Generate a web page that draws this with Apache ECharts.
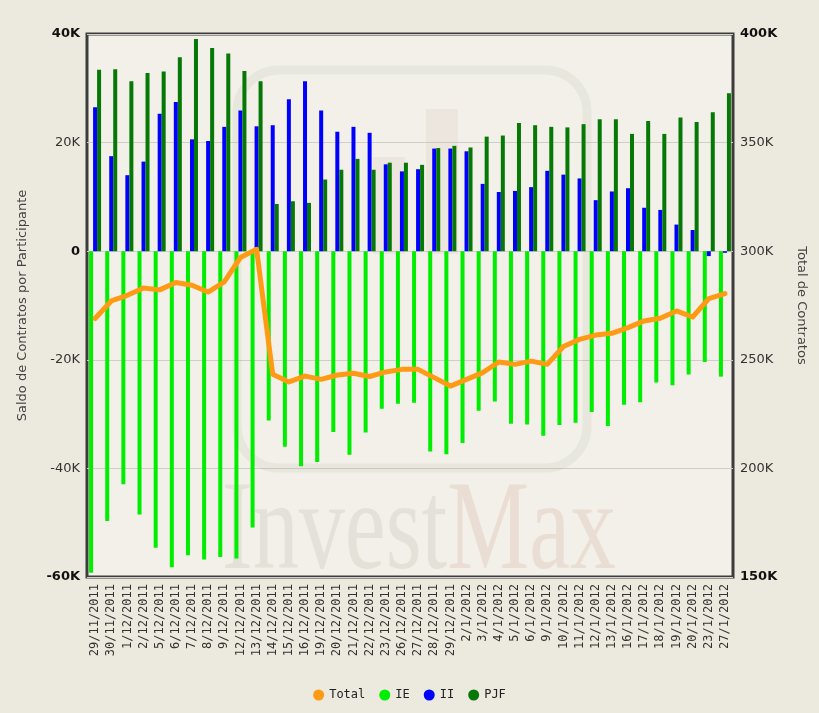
<!DOCTYPE html>
<html>
<head>
<meta charset="utf-8">
<script src="https://cdn.jsdelivr.net/npm/echarts@6/dist/echarts.min.js"></script>
<style>
html,body{margin:0;padding:0;background:#ECE9DE;}
#c{width:819px;height:713px;}
</style>
</head>
<body>
<div id="c"></div>
<script>
var categories = ['29/11/2011','30/11/2011','1/12/2011','2/12/2011','5/12/2011','6/12/2011','7/12/2011','8/12/2011','9/12/2011','12/12/2011','13/12/2011','14/12/2011','15/12/2011','16/12/2011','19/12/2011','20/12/2011','21/12/2011','22/12/2011','23/12/2011','26/12/2011','27/12/2011','28/12/2011','29/12/2011','2/1/2012','3/1/2012','4/1/2012','5/1/2012','6/1/2012','9/1/2012','10/1/2012','11/1/2012','12/1/2012','13/1/2012','16/1/2012','17/1/2012','18/1/2012','19/1/2012','20/1/2012','23/1/2012','27/1/2012'];

var ieValues = [-59200,-49700,-42900,-48500,-54600,-58200,-56000,-56800,-56300,-56600,-50900,-31200,-36000,-39600,-38800,-33300,-37500,-33400,-29000,-28100,-27900,-36900,-37400,-35300,-29400,-27700,-31800,-31900,-34000,-32000,-31600,-29600,-32200,-28300,-27800,-24200,-24700,-22700,-20400,-23100];

var iiValues = [26500,17500,14000,16500,25300,27500,20600,20300,22900,25900,23000,23200,28000,31300,25900,22000,22900,21800,16000,14700,15100,18900,18900,18400,12400,10900,11100,11800,14800,14100,13400,9400,11000,11600,8000,7600,4900,3900,-900,-300];

var pjfValues = [33400,33500,31300,32800,33100,35700,39100,37400,36400,33200,31300,8700,9200,8900,13200,15000,17000,15000,16300,16300,15900,19000,19400,19100,21100,21300,23600,23200,22900,22800,23400,24300,24300,21600,24000,21600,24600,23800,25600,29100];

var totalValues = [269000,277100,279700,283100,282200,285600,284300,281200,285900,297100,300900,243300,239800,242500,241000,243000,243800,242300,244400,245600,245600,241800,237900,241000,244100,249000,247900,249400,247900,256100,259400,261400,262200,264800,267900,269100,272500,269700,278200,280500];

var leftTicks = {min: -60000, max: 40000, interval: 20000};
var rightTicks = {min: 150000, max: 400000, interval: 50000};

var MONO = 'DejaVu Sans Mono';
var SANS = 'DejaVu Sans';

function kfmt(v){ return v === 0 ? '0' : (v/1000) + 'K'; }

var chart = echarts.init(document.getElementById('c'), null, {renderer:'canvas'});
chart.setOption({
  backgroundColor: '#ECE9DE',
  animation: false,
  grid: {
    left: 87, right: 86, top: 34, bottom: 136,
    show: true, backgroundColor: '#F2F0E8', borderColor: '#3c3c3c', borderWidth: 3
  },
  graphic: {
    elements: [
      {type:'rect', z:1, silent:true, shape:{x:237,y:70,width:350,height:398,r:42},
       style:{fill:null, stroke:'rgba(120,110,90,0.07)', lineWidth:9}},
      {type:'rect', z:1, silent:true, shape:{x:426,y:109,width:32,height:145},
       style:{fill:'rgba(200,150,140,0.10)'}},
      {type:'rect', z:1, silent:true, shape:{x:373,y:157,width:32,height:97},
       style:{fill:'rgba(200,150,140,0.10)'}},
      {type:'text', z:1, silent:true, x:222, y:470, scaleX:0.72,
       style:{text:'{a|Invest}{b|Max}', rich:{
         a:{fontFamily:'Liberation Serif', fontSize:128, fill:'rgba(150,140,120,0.14)'},
         b:{fontFamily:'Liberation Serif', fontSize:128, fill:'rgba(190,130,110,0.16)'}
       }}}
    ]
  },
  legend: {
    bottom: 7, left: 'center',
    icon: 'circle', itemWidth: 11, itemHeight: 11, itemGap: 14,
    textStyle: {fontFamily: MONO, fontSize: 12, color: '#222'},
    data: ['Total','IE','II','PJF']
  },
  xAxis: {
    type: 'category', data: categories,
    axisLine: {show: false}, axisTick: {show: false},
    axisLabel: {rotate: 90, interval: 0, fontFamily: MONO, fontSize: 12, color: '#333', margin: 7}
  },
  yAxis: [
    {
      type: 'value', min: leftTicks.min, max: leftTicks.max, interval: leftTicks.interval,
      name: 'Saldo de Contratos por Participante', nameLocation: 'middle', nameGap: 58,
      nameTextStyle: {fontFamily: SANS, fontSize: 13, color: '#444'},
      axisLine: {show: false}, axisTick: {show: false},
      splitLine: {show: true, lineStyle: {color: '#d0cec8', width: 1}},
      axisLabel: {
        fontFamily: SANS, fontSize: 13, color: '#333', margin: 7,
        formatter: function(v){
          var s = kfmt(v);
          if (v === leftTicks.min || v === leftTicks.max || v === 0) return '{b|' + s + '}';
          return s;
        },
        rich: {b: {fontFamily: SANS, fontSize: 13, fontWeight: 'bold', color: '#111'}}
      }
    },
    {
      type: 'value', min: rightTicks.min, max: rightTicks.max, interval: rightTicks.interval,
      name: 'Total de Contratos', nameLocation: 'middle', nameGap: 62, nameRotate: -90,
      nameTextStyle: {fontFamily: SANS, fontSize: 13, color: '#444'},
      axisLine: {show: false}, axisTick: {show: false},
      splitLine: {show: false},
      axisLabel: {
        fontFamily: SANS, fontSize: 13, color: '#333', margin: 7,
        formatter: function(v){
          var s = kfmt(v);
          if (v === rightTicks.min || v === rightTicks.max) return '{b|' + s + '}';
          return s;
        },
        rich: {b: {fontFamily: SANS, fontSize: 13, fontWeight: 'bold', color: '#111'}}
      }
    }
  ],
  series: [
    {name:'Total', type:'line', yAxisIndex:1, data: totalValues, z: 5,
     symbol:'none', itemStyle:{color:'#FF9A14'},
     lineStyle:{color:'#FF9A14', width:5, join:'round', cap:'round'}},
    {name:'IE', type:'bar', data: ieValues, barWidth: 4, barGap: '0%', itemStyle:{color:'#00EE00'}},
    {name:'II', type:'bar', data: iiValues, barWidth: 4, barGap: '0%', itemStyle:{color:'#0000FF'}},
    {name:'PJF', type:'bar', data: pjfValues, barWidth: 4, barGap: '0%', itemStyle:{color:'#067806'}}
  ]
});
</script>
</body>
</html>
